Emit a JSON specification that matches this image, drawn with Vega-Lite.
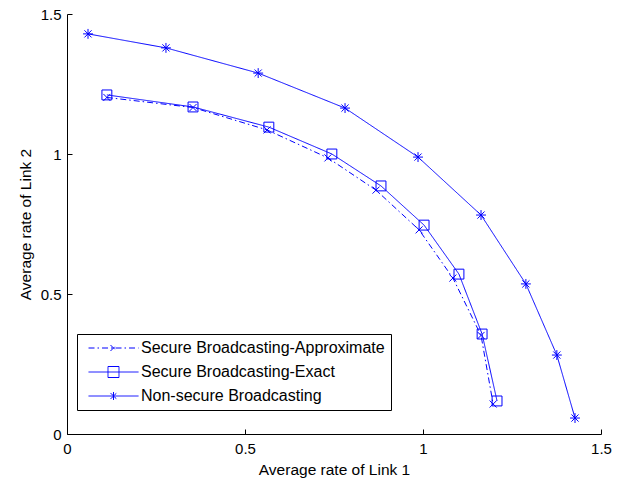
{
  "$schema": "https://vega.github.io/schema/vega-lite/v6.json",
  "width": 534,
  "height": 420,
  "autosize": {"type": "none"},
  "padding": {"left": 67, "top": 14, "right": 25, "bottom": 45},
  "background": "white",
  "config": {
    "view": {"stroke": null},
    "font": "Liberation Sans",
    "axis": {
      "grid": false,
      "domainColor": "black",
      "domainWidth": 1,
      "tickColor": "black",
      "tickWidth": 1,
      "tickSize": -5,
      "labelColor": "black",
      "labelFont": "Liberation Sans",
      "labelFontSize": 15,
      "titleFont": "Liberation Sans",
      "titleFontSize": 15.5,
      "titleFontWeight": "normal",
      "titleColor": "black"
    },
    "legend": {
      "orient": "none",
      "legendX": 10,
      "legendY": 320,
      "strokeColor": "black",
      "fillColor": "white",
      "padding": 6,
      "symbolSize": 121,
      "symbolStrokeWidth": 1,
      "symbolStrokeColor": "#0000ff",
      "symbolFillColor": "transparent",
      "labelFont": "Liberation Sans",
      "labelFontSize": 16,
      "labelColor": "black",
      "labelOffset": 42,
      "labelLimit": 0,
      "rowPadding": 8
    }
  },
  "data": {
    "values": [
      {"series": "Secure Broadcasting-Approximate", "x": 0.112, "y": 1.202},
      {"series": "Secure Broadcasting-Approximate", "x": 0.354, "y": 1.166},
      {"series": "Secure Broadcasting-Approximate", "x": 0.562, "y": 1.086},
      {"series": "Secure Broadcasting-Approximate", "x": 0.733, "y": 0.986},
      {"series": "Secure Broadcasting-Approximate", "x": 0.868, "y": 0.871},
      {"series": "Secure Broadcasting-Approximate", "x": 0.989, "y": 0.729},
      {"series": "Secure Broadcasting-Approximate", "x": 1.084, "y": 0.557},
      {"series": "Secure Broadcasting-Approximate", "x": 1.163, "y": 0.352},
      {"series": "Secure Broadcasting-Approximate", "x": 1.197, "y": 0.107},
      {"series": "Secure Broadcasting-Exact", "x": 0.112, "y": 1.211},
      {"series": "Secure Broadcasting-Exact", "x": 0.354, "y": 1.168},
      {"series": "Secure Broadcasting-Exact", "x": 0.567, "y": 1.096},
      {"series": "Secure Broadcasting-Exact", "x": 0.744, "y": 1.0},
      {"series": "Secure Broadcasting-Exact", "x": 0.882, "y": 0.886},
      {"series": "Secure Broadcasting-Exact", "x": 1.003, "y": 0.746},
      {"series": "Secure Broadcasting-Exact", "x": 1.101, "y": 0.571},
      {"series": "Secure Broadcasting-Exact", "x": 1.166, "y": 0.357},
      {"series": "Secure Broadcasting-Exact", "x": 1.208, "y": 0.118},
      {"series": "Non-secure Broadcasting", "x": 0.059, "y": 1.429},
      {"series": "Non-secure Broadcasting", "x": 0.278, "y": 1.379},
      {"series": "Non-secure Broadcasting", "x": 0.537, "y": 1.289},
      {"series": "Non-secure Broadcasting", "x": 0.781, "y": 1.164},
      {"series": "Non-secure Broadcasting", "x": 0.986, "y": 0.989},
      {"series": "Non-secure Broadcasting", "x": 1.163, "y": 0.782},
      {"series": "Non-secure Broadcasting", "x": 1.289, "y": 0.536},
      {"series": "Non-secure Broadcasting", "x": 1.376, "y": 0.282},
      {"series": "Non-secure Broadcasting", "x": 1.427, "y": 0.057}
    ]
  },
  "encoding": {
    "x": {
      "field": "x", "type": "quantitative",
      "scale": {"domain": [0, 1.5], "nice": false},
      "axis": {"values": [0, 0.5, 1, 1.5], "format": "~g", "labelPadding": 12, "titlePadding": 6, "title": "Average rate of Link 1", "labelFlush": false}
    },
    "y": {
      "field": "y", "type": "quantitative",
      "scale": {"domain": [0, 1.5], "nice": false},
      "axis": {"values": [0, 0.5, 1, 1.5], "format": "~g", "labelPadding": 11, "titlePadding": 7, "title": "Average rate of Link 2", "labelFlush": false}
    }
  },
  "layer": [
    {
      "mark": {"type": "line", "color": "#0000ff", "strokeWidth": 1},
      "encoding": {
        "strokeDash": {
          "field": "series", "type": "nominal",
          "scale": {
            "domain": ["Secure Broadcasting-Approximate", "Secure Broadcasting-Exact", "Non-secure Broadcasting"],
            "range": [[6, 3, 1.5, 3], [1, 0], [1, 0]]
          },
          "legend": null
        }
      }
    },
    {
      "mark": {"type": "point", "filled": false, "color": "#0000ff", "size": 121, "strokeWidth": 1, "opacity": 1},
      "encoding": {
        "shape": {
          "field": "series", "type": "nominal",
          "scale": {
            "domain": ["Secure Broadcasting-Approximate", "Secure Broadcasting-Exact", "Non-secure Broadcasting"],
            "range": [
              "M-0.64,-0.64L0.64,0.64M-0.64,0.64L0.64,-0.64",
              "M-0.9,-0.9H0.9V0.9H-0.9Z",
              "M-0.9,0H0.9M0,-0.9V0.9M-0.65,-0.65L0.65,0.65M-0.65,0.65L0.65,-0.65"
            ]
          },
          "legend": null
        }
      }
    },
    {
      "transform": [{"filter": "false"}],
      "mark": {"type": "point", "filled": false, "color": "#0000ff", "size": 121, "strokeWidth": 1, "opacity": 1},
      "encoding": {
        "shape": {
          "field": "series", "type": "nominal",
          "scale": {
            "domain": ["Secure Broadcasting-Approximate", "Secure Broadcasting-Exact", "Non-secure Broadcasting"],
            "range": [
              "M-0.45,0H8.64M3.54,-0.55L4.64,0.55M3.54,0.55L4.64,-0.55",
              "M-0.45,0H8.64M3.09,-1H5.09V1H3.09Z",
              "M-0.45,0H8.64M4.09,-0.73V0.73M3.54,-0.55L4.64,0.55M3.54,0.55L4.64,-0.55"
            ]
          },
          "legend": {"title": null}
        },
        "strokeDash": {
          "field": "series", "type": "nominal",
          "scale": {
            "domain": ["Secure Broadcasting-Approximate", "Secure Broadcasting-Exact", "Non-secure Broadcasting"],
            "range": [[6, 3, 1.5, 3], [1, 0], [1, 0]]
          },
          "legend": {"title": null}
        }
      }
    }
  ],
  "resolve": {
    "scale": {"shape": "independent", "strokeDash": "independent"},
    "legend": {"shape": "independent", "strokeDash": "independent"}
  }
}
